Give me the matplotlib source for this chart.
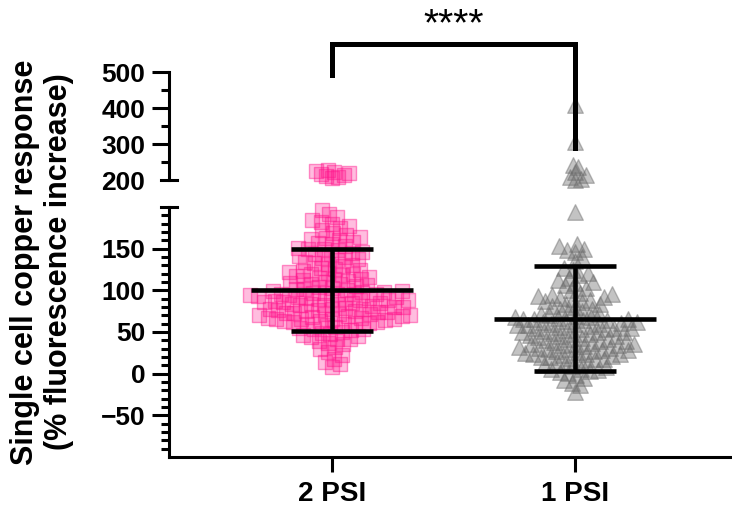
import numpy as np
import matplotlib
matplotlib.use('Agg')
import matplotlib.pyplot as plt
from matplotlib.ticker import FixedLocator

plt.rcParams['font.family'] = ['Liberation Sans', 'DejaVu Sans']
plt.rcParams['font.weight'] = 'bold'

# values (% fluorescence increase per cell)
groups = ['2 PSI', '1 PSI']

psi2 = [206, 208, 210, 213, 216, 219, 222, 225, 228,
        188, 192, 196,
        166, 169, 172, 175, 177, 180, 182, 184,
        150, 151, 153, 155, 157, 158, 160, 161, 163, 164,
        126, 127, 129, 130, 132, 133, 134, 136, 137, 139, 140, 141, 143, 144, 145, 146, 148, 149,
        100, 101, 102, 103, 104, 105, 106, 107, 108, 109, 110, 111, 112, 113, 114, 115, 116, 117,
        118, 119, 120, 121, 122, 123, 124,
        77, 78, 78, 79, 80, 80, 81, 82, 82, 83, 84, 84, 85, 86, 86, 87, 88, 88, 89, 90,
        90, 91, 92, 92, 93, 94, 94, 95, 96, 96, 97, 97, 98, 98, 99, 99, 85, 88, 91, 95,
        60, 61, 61, 62, 63, 63, 64, 65, 65, 66, 67, 67, 68, 69, 69, 70, 71, 71, 72, 73,
        73, 74, 75, 75, 76, 76, 62, 66, 70, 74,
        41, 42, 44, 45, 46, 48, 49, 50, 52, 53, 54, 55, 56, 58, 59,
        18, 22, 26, 29, 32, 35, 37, 39,
        8, 11, 14]

psi1 = [408, 305, 242, 236, 222, 214, 208, 204, 201,
        194,
        156, 153, 150, 148, 146, 140, 135,
        97, 100, 103, 106, 109, 112, 115, 118, 121, 124, 127, 110,
        72, 74, 75, 77, 78, 80, 81, 83, 84, 86, 87, 88, 90, 91, 92, 93, 94, 95,
        43, 44, 45, 46, 47, 48, 49, 50, 50, 51, 52, 53, 54, 55, 55, 56, 57, 58, 59, 60,
        60, 61, 62, 63, 64, 64, 65, 66, 67, 68, 68, 69, 70, 71, 45, 50, 55, 58, 62, 66,
        16, 17, 18, 19, 20, 21, 22, 23, 23, 24, 25, 26, 27, 27, 28, 29, 30, 31, 31, 32,
        33, 34, 35, 35, 36, 37, 38, 39, 39, 40, 41, 42, 20, 28, 34,
        1, 2, 3, 4, 5, 6, 8, 9, 10, 12, 13, 15,
        -2, -5, -8, -11, -14,
        -22]

means = [100.5, 66]
sds = [49, 63]

W, H = 732, 514
fig = plt.figure(figsize=(W / 100, H / 100), dpi=100)
ax_lo = fig.add_axes([169 / W, 1 - 457 / H, (W - 169) / W, (457 - 207) / H])
ax_hi = fig.add_axes([169 / W, 1 - 180 / H, (W - 169) / W, (180 - 72) / H])

xlim = (-0.671, 1.646)
ax_lo.set_xlim(*xlim)
ax_hi.set_xlim(*xlim)
ax_lo.set_ylim(-100, 200)
ax_hi.set_ylim(200, 500)


def swarm_x(ax, vals, xc, d=9.0):
    # simple beeswarm in pixel space
    vals = np.asarray(vals, float)
    pts = ax.transData.transform(np.column_stack([np.full(len(vals), xc), vals]))
    ypx = pts[:, 1]
    x0 = pts[0, 0]
    order = np.argsort(ypx)
    px_l, py_l = [], []
    out = np.zeros(len(vals))
    for i in order:
        y = ypx[i]
        cands = [0.0]
        for px, py in zip(px_l, py_l):
            dy = y - py
            if abs(dy) < d:
                dx = np.sqrt(d * d - dy * dy)
                cands += [px + dx, px - dx]
        cands.sort(key=abs)
        for c in cands:
            if all((c - px) ** 2 + (y - py) ** 2 >= d * d - 1e-6 for px, py in zip(px_l, py_l)):
                break
        px_l.append(c)
        py_l.append(y)
        out[i] = c
    return ax.transData.inverted().transform(np.column_stack([x0 + out, ypx]))[:, 0]


styles = [dict(marker='s', s=115, facecolor=(1.0, 0.08, 0.55, 0.28), edgecolor=(1.0, 0.08, 0.55, 0.45)),
          dict(marker='^', s=125, facecolor=(0.42, 0.42, 0.42, 0.40), edgecolor=(0.42, 0.42, 0.42, 0.45))]

for i, vals in enumerate([psi2, psi1]):
    vals = np.asarray(vals, float)
    lo = vals[vals < 200]
    hi = vals[vals >= 200]
    ax_lo.scatter(swarm_x(ax_lo, lo, i, 8.5), lo, linewidths=1, zorder=2, clip_on=False, **styles[i])
    ax_hi.scatter(swarm_x(ax_hi, hi, i, 6.0), hi, linewidths=1, zorder=2, clip_on=False, **styles[i])
    # mean +- SD
    ax_lo.hlines(means[i], i - 0.334, i + 0.334, color='k', lw=3.3, zorder=5)
    ax_lo.hlines([means[i] - sds[i], means[i] + sds[i]], i - 0.167, i + 0.167, color='k', lw=3.3, zorder=5)
    ax_lo.vlines(i, means[i] - sds[i], means[i] + sds[i], color='k', lw=3.3, zorder=5)

# significance bracket
ax_hi.plot([0, 0, 1, 1], [491.7, 577.8, 577.8, 289], color='k', lw=3.6, clip_on=False,
           solid_joinstyle='miter', zorder=6)
ax_hi.text(0.5, 630, '****', ha='center', va='center', fontsize=28, fontweight='normal')

# axes styling
for ax in (ax_lo, ax_hi):
    for s in ('top', 'right'):
        ax.spines[s].set_visible(False)
    ax.spines['left'].set_linewidth(2.2)
    ax.tick_params(axis='y', which='major', length=12, width=2.2, labelsize=19, pad=5)
    ax.tick_params(axis='y', which='minor', length=6, width=2.2)
ax_hi.spines['bottom'].set_visible(False)
ax_hi.set_xticks([])
ax_lo.spines['bottom'].set_linewidth(2.2)

ax_lo.yaxis.set_major_locator(FixedLocator([-50, 0, 50, 100, 150]))
ax_lo.yaxis.set_minor_locator(FixedLocator(np.arange(-90, 200, 10)))
ax_hi.yaxis.set_major_locator(FixedLocator([200, 300, 400, 500]))
ax_hi.yaxis.set_minor_locator(FixedLocator([250, 350, 450]))
ax_hi.yaxis.get_major_ticks()[0].tick1line.set_visible(False)

ax_lo.set_xticks([0, 1])
ax_lo.set_xticklabels(groups)
ax_lo.tick_params(axis='x', length=11, width=2.2, labelsize=20, pad=6)

# break marks
bw = 8 / (W - 169)
ax_hi.plot([-bw, bw], [200, 200], transform=ax_hi.get_yaxis_transform(), color='k', lw=2.2, clip_on=False)
ax_lo.plot([-bw, bw], [200, 200], transform=ax_lo.get_yaxis_transform(), color='k', lw=2.2, clip_on=False)

fig.text(42 / W, 1 - 262 / H, 'Single cell copper response\n(% fluorescence increase)',
         rotation=90, ha='center', va='center', fontsize=22, fontweight='bold',
         multialignment='center', linespacing=1.15)

fig.savefig('out.png', dpi=100)
